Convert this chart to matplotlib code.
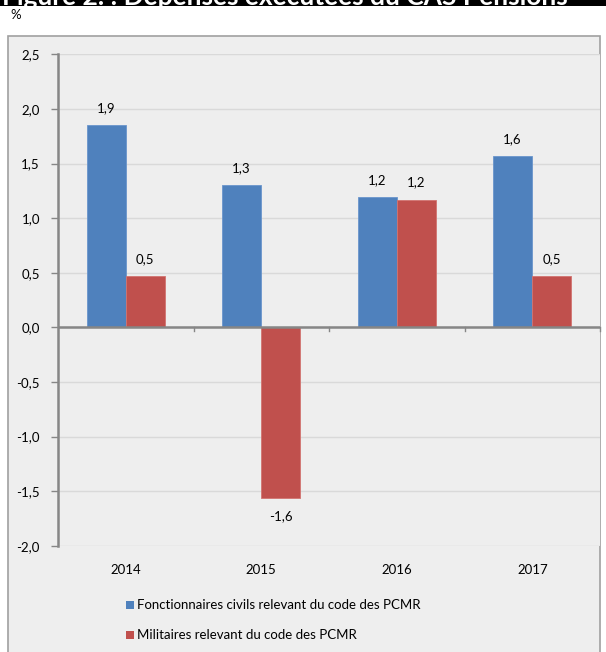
import matplotlib
matplotlib.use('Agg')
import matplotlib.pyplot as plt
from matplotlib.patches import Rectangle

# data
years = ['2014', '2015', '2016', '2017']
civils = [1.85, 1.30, 1.19, 1.57]
militaires = [0.47, -1.56, 1.17, 0.47]
series_names = ['Fonctionnaires civils relevant du code des PCMR',
                'Militaires relevant du code des PCMR']
yticks = [-2.0, -1.5, -1.0, -0.5, 0.0, 0.5, 1.0, 1.5, 2.0, 2.5]

BLUE = '#4F81BD'
RED = '#C0504D'
BG = '#EEEEEE'
AXC = '#868686'
FS = 9.5

plt.rcParams['font.family'] = ['Lato', 'DejaVu Sans']

W, H = 606, 652
fig = plt.figure(figsize=(W / 100, H / 100), dpi=100)
fig.patch.set_facecolor('white')


def px(x, y):
    # pixel (from top-left) -> figure fraction
    return x / W, 1 - y / H


# chart frame
fx, fy = px(8, 36)
fr, _ = px(600, 0)
fig.add_artist(Rectangle((fx, -0.01), fr - fx, fy + 0.01, transform=fig.transFigure,
                         facecolor=BG, edgecolor='#A0A0A0', linewidth=1.2, zorder=-5))

# title bar (cut off at the top)
ax_t = fig.add_axes([0, 1 - 6 / H, 1, 6 / H])
ax_t.set_xlim(0, 1)
ax_t.set_ylim(0, 1)
ax_t.axis('off')
ax_t.add_patch(Rectangle((0, 0), 1, 1, facecolor='black', transform=ax_t.transAxes))
ax_t.text(0.003, 0.2, 'Figure 2. : Dépenses exécutées du CAS Pensions', color='white',
          fontsize=19, fontweight='bold', va='baseline', clip_on=True,
          transform=ax_t.transAxes)

fig.text(*px(10, 15), '%', fontsize=FS, va='center', ha='left')

# plot area
left, top = px(58, 54.3)
_, bottom = px(0, 545.7)
right = 600 / W
ax = fig.add_axes([left, bottom, right - left, top - bottom])
ax.set_facecolor(BG)

x = range(len(years))
w = 0.289
ax.bar([i - w / 2 for i in x], civils, width=w, color=BLUE, edgecolor='#6A95CC',
       linewidth=0.6, zorder=3)
ax.bar([i + w / 2 for i in x], militaires, width=w, color=RED, edgecolor='#D27370',
       linewidth=0.6, zorder=3)

for i in x:
    for off, v in ((-w / 2, civils[i]), (w / 2, militaires[i])):
        lab = ('%.1f' % v).replace('.', ',')
        if v >= 0:
            ax.annotate(lab, (i + off, v), xytext=(0, 8), textcoords='offset points',
                        ha='center', va='bottom', fontsize=FS)
        else:
            ax.annotate(lab, (i + off, v), xytext=(0, -9), textcoords='offset points',
                        ha='center', va='top', fontsize=FS)

ax.set_xlim(-0.5, 3.5)
ax.set_ylim(-2.0, 2.5)
ax.set_yticks(yticks)
ax.set_yticklabels([('%.1f' % t).replace('.', ',') for t in yticks], fontsize=FS)
ax.tick_params(axis='y', length=5, width=1, color=AXC, pad=8)
ax.grid(axis='y', color='#D9D9D9', linewidth=1, zorder=0)
ax.set_axisbelow(True)

for s in ['top', 'right', 'bottom']:
    ax.spines[s].set_visible(False)
ax.spines['left'].set_color(AXC)
ax.spines['left'].set_linewidth(1.8)

# zero line as the category axis
ax.axhline(0, color=AXC, linewidth=1.8, zorder=4)
ax.set_xticks([])
for b in [0.5, 1.5, 2.5, 3.5]:
    ax.plot([b, b], [0, -0.035], color=AXC, linewidth=1, zorder=4, clip_on=False)

for i, yr in enumerate(years):
    ax.text(i, -0.049, yr, transform=ax.get_xaxis_transform(), ha='center',
            va='center', fontsize=FS)

# legend
for k, (name, col) in enumerate(zip(series_names, [BLUE, RED])):
    yc = 605 + k * 30
    sx, sy = px(126, yc + 4)
    fig.add_artist(Rectangle((sx, sy), 8 / W, 8 / H, transform=fig.transFigure,
                             facecolor=col, edgecolor='none'))
    fig.text(*px(137, yc), name, fontsize=FS, va='center', ha='left')

fig.savefig('out.png', dpi=100, facecolor=fig.get_facecolor())
